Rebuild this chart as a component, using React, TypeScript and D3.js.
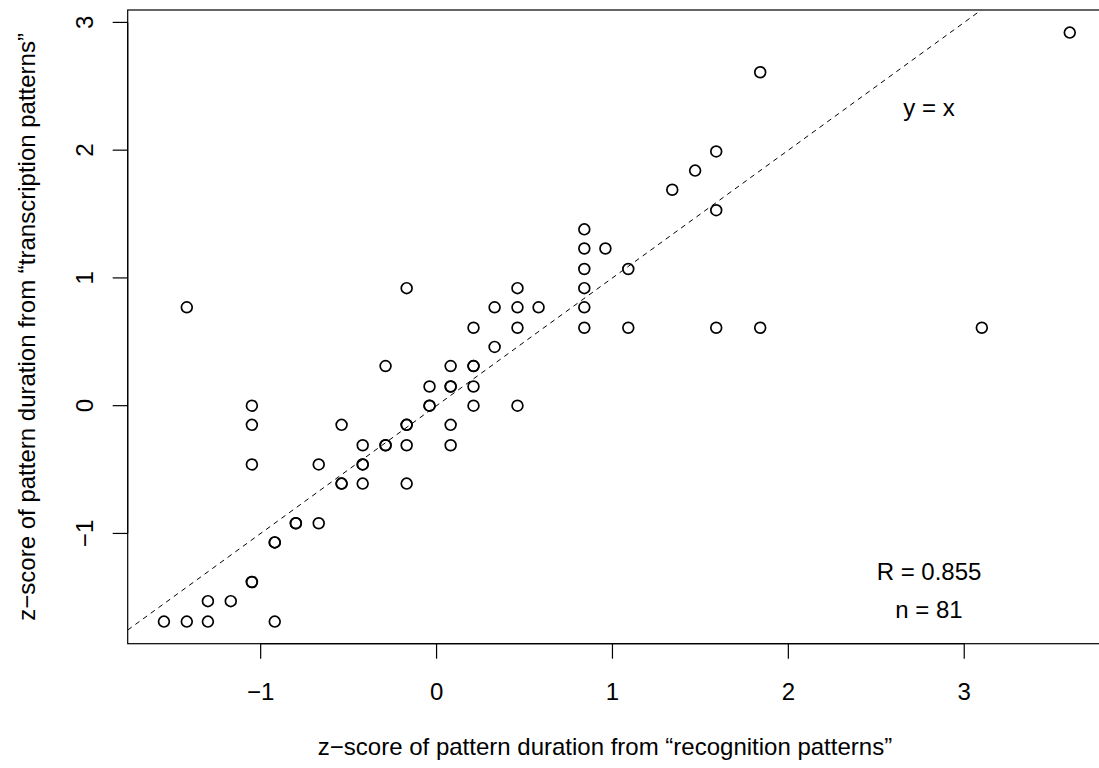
import React from "react";
import * as d3 from "d3";

// Data (z-scores), duplicated points repeated
const xVals: number[] = [
  -1.55, -1.42, -1.30, -1.30, -1.17,
  -1.05, -1.05, -0.92, -0.92, -0.92, -0.80, -0.80, -0.67,
  -1.05, -1.05, -1.05, -1.42,
  -0.67, -0.54, -0.54, -0.54,
  -0.42, -0.42, -0.42, -0.42,
  -0.29, -0.29, -0.29,
  -0.17, -0.17, -0.17, -0.17, -0.17,
  -0.04, -0.04, -0.04,
  0.08, 0.08, 0.08, 0.08, 0.08,
  0.21, 0.21, 0.21, 0.21, 0.21,
  0.33, 0.33,
  0.46, 0.46, 0.46, 0.46,
  0.58,
  0.84, 0.84, 0.84, 0.84, 0.84, 0.84,
  0.96,
  1.09, 1.09,
  1.34, 1.47, 1.59, 1.59, 1.59,
  1.84, 1.84,
  3.10, 3.60,
];
const yVals: number[] = [
  -1.69, -1.69, -1.69, -1.53, -1.53,
  -1.38, -1.38, -1.69, -1.07, -1.07, -0.92, -0.92, -0.92,
  -0.46, -0.15, 0.0, 0.77,
  -0.46, -0.61, -0.61, -0.15,
  -0.61, -0.46, -0.46, -0.31,
  -0.31, -0.31, 0.31,
  -0.61, -0.31, -0.15, -0.15, 0.92,
  0.0, 0.0, 0.15,
  -0.31, -0.15, 0.15, 0.15, 0.31,
  0.0, 0.15, 0.31, 0.31, 0.61,
  0.46, 0.77,
  0.0, 0.61, 0.77, 0.92,
  0.77,
  0.61, 0.77, 0.92, 1.07, 1.23, 1.38,
  1.23,
  1.07, 0.61,
  1.69, 1.84, 1.99, 1.53, 0.61,
  2.61, 0.61,
  0.61, 2.92,
];
const xTicks: number[] = [-1, 0, 1, 2, 3];
const yTicks: number[] = [-1, 0, 1, 2, 3];
const xTitle = "z\u2212score of pattern duration from \u201Crecognition patterns\u201D";
const yTitle = "z\u2212score of pattern duration from \u201Ctranscription patterns\u201D";
const annotations = ["y = x", "R = 0.855", "n = 81"];

const W = 1099;
const H = 768;
const left = 127.7;
const top = 10;
const bottom = 643.7;
const right = 1106;
const FONT = "'Liberation Sans', Arial, Helvetica, sans-serif";
const FS = 24;

const fmt = (v: number) => (v < 0 ? "\u2212" + Math.abs(v) : String(v));

export default function App() {
  const x = d3.scaleLinear().domain([-1.756, 3.806]).range([left, right]);
  const y = d3.scaleLinear().domain([-1.863, 3.097]).range([bottom, top]);

  const [xd0, xd1] = x.domain();
  const [yd0, yd1] = y.domain();
  const lo = Math.max(xd0, yd0);
  const hi = Math.min(xd1, yd1);
  const linePath = d3.line<number>()
    .x((d) => x(d))
    .y((d) => y(d))([lo, hi]);

  const pts = xVals.map((v, i) => [v, yVals[i]]);

  return (
    <svg width={W} height={H} style={{ position: "absolute", left: 0, top: 0, background: "#fff" }}
      fontFamily={FONT}>
      <rect x={0} y={0} width={W} height={H} fill="#fff" />
      <defs>
        <clipPath id="plotclip">
          <rect x={left} y={top} width={right - left} height={bottom - top} />
        </clipPath>
      </defs>
      {/* box */}
      <rect x={left} y={top} width={right - left} height={bottom - top} fill="none" stroke="#000" strokeWidth={1.2} />
      {/* y = x line */}
      <path d={linePath || ""} stroke="#000" strokeWidth={1} strokeDasharray="5,4.5" fill="none" clipPath="url(#plotclip)" />
      {/* points */}
      {pts.map((p, i) => (
        <circle key={i} cx={x(p[0])} cy={y(p[1])} r={5.4} fill="none" stroke="#000" strokeWidth={1.7} />
      ))}
      {/* x axis */}
      <line x1={x(xTicks[0])} x2={x(xTicks[xTicks.length - 1])} y1={bottom} y2={bottom} stroke="#000" strokeWidth={1.2} />
      {xTicks.map((t) => (
        <g key={"xt" + t}>
          <line x1={x(t)} x2={x(t)} y1={bottom} y2={bottom + 15} stroke="#000" strokeWidth={1.2} />
          <text x={x(t)} y={700} textAnchor="middle" fontSize={FS}>{fmt(t)}</text>
        </g>
      ))}
      {/* y axis */}
      <line x1={left} x2={left} y1={y(yTicks[0])} y2={y(yTicks[yTicks.length - 1])} stroke="#000" strokeWidth={1.2} />
      {yTicks.map((t) => (
        <g key={"yt" + t}>
          <line x1={left - 15} x2={left} y1={y(t)} y2={y(t)} stroke="#000" strokeWidth={1.2} />
          <text transform={`translate(85,${y(t)}) rotate(-90)`} textAnchor="middle" dy="0.35em" fontSize={FS}>{fmt(t)}</text>
        </g>
      ))}
      {/* titles */}
      <text x={605} y={755} textAnchor="middle" fontSize={FS}>{xTitle}</text>
      <text transform={`translate(27,${(top + bottom) / 2}) rotate(-90)`} textAnchor="middle" dy="0.35em" fontSize={FS}>{yTitle}</text>
      {/* annotations */}
      <text x={929} y={108} dy="0.35em" textAnchor="middle" fontSize={FS}>{annotations[0]}</text>
      <text x={929} y={572} dy="0.35em" textAnchor="middle" fontSize={FS}>{annotations[1]}</text>
      <text x={929} y={610} dy="0.35em" textAnchor="middle" fontSize={FS}>{annotations[2]}</text>
    </svg>
  );
}
